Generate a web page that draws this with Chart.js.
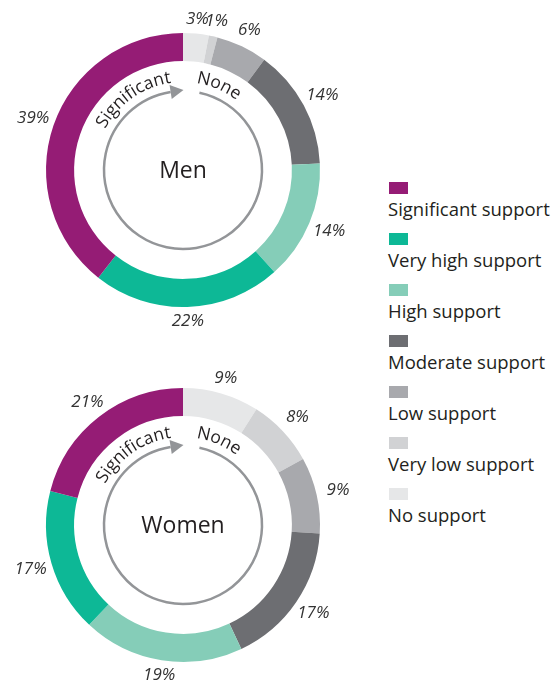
<!DOCTYPE html>
<html>
<head>
<meta charset="utf-8">
<script src="https://cdn.jsdelivr.net/npm/chart.js@4.4.1/dist/chart.umd.min.js"></script>
<style>
  html, body { margin: 0; padding: 0; background: #fff; overflow: hidden; }
  body { width: 553px; height: 686px; position: relative; font-family: "Open Sans", sans-serif; }
  canvas { position: absolute; left: 0; }
  #menChart { top: 0; }
  #womenChart { top: 355px; }
  #legend { position: absolute; left: 0; top: 0; }
  .swatch { position: absolute; left: 389px; width: 19px; height: 12px; }
  .label { position: absolute; left: 388px; font-size: 18.5px; line-height: 18px; color: #231f20; white-space: nowrap; }
</style>
</head>
<body>
<canvas id="menChart" width="366" height="340"></canvas>
<canvas id="womenChart" width="366" height="331"></canvas>
<div id="legend"></div>
<script>
// clockwise from 12 o'clock
var categories = ["No support", "Very low support", "Low support", "Moderate support",
                  "High support", "Very high support", "Significant support"];
var menValues = [3, 1, 6, 14, 14, 22, 39];
var womenValues = [9, 8, 9, 17, 19, 17, 21];
var sliceColors = ["#e6e7e8", "#d1d2d4", "#a8a9ad", "#6d6e72", "#85cdb8", "#0db896", "#951c75"];

var greyLine = "#939598";
var textColor = "#231f20";

function arcText(ctx, text, cx, cy, r, centerDeg) {
  var total = ctx.measureText(text).width / r;
  var a = centerDeg * Math.PI / 180 - total / 2;
  for (var i = 0; i < text.length; i++) {
    var w = ctx.measureText(text[i]).width;
    var mid = a + (w / 2) / r;
    ctx.save();
    ctx.translate(cx + r * Math.sin(mid), cy - r * Math.cos(mid));
    ctx.rotate(mid);
    ctx.fillText(text[i], 0, 0);
    ctx.restore();
    a += w / r;
  }
}

const donutDecor = {
  id: 'donutDecor',
  afterDraw: function (chart, args, opts) {
    var ctx = chart.ctx;
    var meta = chart.getDatasetMeta(0);
    var first = meta.data[0];
    var cx = first.x, cy = first.y, outer = first.outerRadius;
    var values = chart.data.datasets[0].data;

    ctx.save();
    // percent labels outside the ring
    ctx.font = 'italic 17px "Open Sans"';
    ctx.fillStyle = "#333";
    ctx.textAlign = 'center';
    ctx.textBaseline = 'middle';
    meta.data.forEach(function (arc, i) {
      var mid = (arc.startAngle + arc.endAngle) / 2;
      var r = outer + 14 + 8 * Math.abs(Math.cos(mid));
      ctx.fillText(values[i] + "%", cx + r * Math.cos(mid), cy + r * Math.sin(mid));
    });

    // centre label
    ctx.font = '23px "Open Sans"';
    ctx.fillStyle = textColor;
    ctx.fillText(opts.title, cx, cy + 1);

    // inner circular arrow
    var ri = 79;
    var deg = Math.PI / 180;
    ctx.strokeStyle = greyLine;
    ctx.lineWidth = 2.5;
    ctx.beginPath();
    ctx.arc(cx, cy, ri, -Math.PI / 2 + 12 * deg, -Math.PI / 2 + 351 * deg);
    ctx.stroke();
    var b = -9 * deg;
    var bx = cx + ri * Math.sin(b), by = cy - ri * Math.cos(b);
    var tx = Math.cos(b), ty = Math.sin(b);
    var nx = Math.sin(b), ny = -Math.cos(b);
    ctx.fillStyle = greyLine;
    ctx.beginPath();
    ctx.moveTo(bx + 13 * tx, by + 13 * ty);
    ctx.lineTo(bx + 7 * nx, by + 7 * ny);
    ctx.lineTo(bx - 7 * nx, by - 7 * ny);
    ctx.closePath();
    ctx.fill();

    // curved words
    ctx.font = '17.5px "Open Sans"';
    ctx.fillStyle = textColor;
    ctx.textAlign = 'center';
    ctx.textBaseline = 'alphabetic';
    arcText(ctx, "Significant", cx, cy, 88, -35);
    arcText(ctx, "None", cx, cy, 88, 23);
    ctx.restore();
  }
};

function makeDonut(id, values, title, padTop, padBottom) {
  return new Chart(document.getElementById(id).getContext("2d"), {
    type: 'doughnut',
    data: {
      labels: categories,
      datasets: [{
        data: values,
        backgroundColor: sliceColors,
        borderWidth: 0
      }]
    },
    options: {
      responsive: false,
      animation: false,
      cutout: '79.5%',
      layout: { padding: { left: 46, right: 46, top: padTop, bottom: padBottom } },
      plugins: {
        legend: { display: false },
        tooltip: { enabled: false },
        donutDecor: { title: title }
      }
    },
    plugins: [donutDecor]
  });
}

var menChart = makeDonut("menChart", menValues, "Men", 33, 33);
var womenChart = makeDonut("womenChart", womenValues, "Women", 33, 24);

// legend, top to bottom is reverse of slice order
var legendBox = document.getElementById("legend");
for (var i = categories.length - 1, k = 0; i >= 0; i--, k++) {
  var rowTop = 182 + k * 51;
  var sw = document.createElement("div");
  sw.className = "swatch";
  sw.style.top = rowTop + "px";
  sw.style.background = sliceColors[i];
  var lb = document.createElement("div");
  lb.className = "label";
  lb.style.top = (rowTop + 18) + "px";
  lb.textContent = categories[i];
  legendBox.appendChild(sw);
  legendBox.appendChild(lb);
}
</script>
</body>
</html>
